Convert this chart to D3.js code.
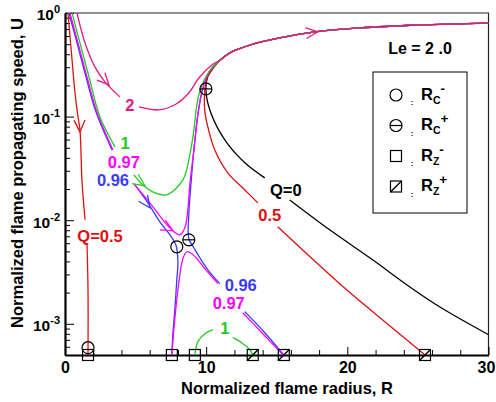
<!DOCTYPE html>
<html>
<head>
<meta charset="utf-8">
<script src="https://cdn.jsdelivr.net/npm/d3@7"></script>
<style>
  body { margin: 0; background: #fff; }
  svg { display: block; font-family: "Liberation Sans", Arial, Helvetica, sans-serif; font-weight: bold; }
</style>
</head>
<body>
<svg width="496" height="402"></svg>
<script>
// branch shared by all curves above the turning point (R, U)
const upper = [[11.0,0.352],[11.8,0.421],[13.1,0.491],[15.2,0.574],[17.7,0.656],[20.9,0.717],[25.1,0.766],[30,0.80]];
const upperRev = upper.slice().reverse();

// null = gap where a curve label sits
const q0 = [...upperRev, [10.5,0.295],[10.1,0.241],[9.98,0.185],[10.26,0.116],[11.32,0.0596],[12.74,0.0358],[14.15,0.0256], null,
  [15.92,0.0157],[18.75,0.00808],[21.79,0.00415],[24.41,0.00228],[26.53,0.00146],[30,0.000785]];
const q05Right = [...upperRev, [10.5,0.295],[10.1,0.241],[9.91,0.181],[9.91,0.111],[10.12,0.0796],[10.61,0.0477],[11.53,0.0287],[12.74,0.0196],[13.66,0.0147], null,
  [15.07,0.00864],[19.46,0.00244],[23.0,0.000959],[25.5,0.0005]];
const q05Left = [[0.21,1],[0.50,0.352],[0.71,0.169],[0.92,0.0993],[1.06,0.0744],[1.20,0.0245],[1.42,0.0101], null,
  [1.56,0.00579],[1.63,0.00213],[1.63,0.0005]];
const q2 = [[0.85,1],[1.42,0.514],[2.12,0.302],[2.83,0.216],[3.89,0.155], null,
  [5.24,0.124],[6.65,0.116],[7.78,0.130],[8.77,0.169],[9.48,0.236],[10.4,0.315], ...upper];
const q1 = [[0.50,1],[1.06,0.514],[1.70,0.241],[2.48,0.0993],[3.54,0.051], null,
  [4.88,0.0274],[5.52,0.0219],[6.37,0.0184],[7.22,0.0176],[8.35,0.0245],[8.84,0.0427],[9.13,0.0744],[9.34,0.130],[9.62,0.189],[10.05,0.252],[10.47,0.302], ...upper];
const q1Low = [[9.20,0.0005],[9.41,0.000672],[9.91,0.000803],[10.47,0.000877], null,
  [11.89,0.000735],[12.52,0.000657],[13.09,0.000563],[13.3,0.0005]];
const q097 = [[0.35,1],[0.92,0.514],[1.56,0.241],[2.26,0.111],[3.40,0.0477], null,
  [4.88,0.0224],[6.01,0.0147],[6.93,0.0101],[7.57,0.00808],[8.14,0.00723],[8.49,0.00845],[8.70,0.0126],[8.84,0.0219],[9.13,0.0477],[9.41,0.104],[9.69,0.173],[10.05,0.247],[10.47,0.302], ...upper];
const q097Low = [[7.57,0.0005],[7.71,0.000877],[7.92,0.00171],[8.14,0.00298],[8.35,0.00424],[8.63,0.00496],[8.99,0.00474],[9.41,0.00415],[9.84,0.00348],[10.83,0.00244], null,
  [12.6,0.00128],[14.01,0.000803],[15.45,0.0005]];
const q096 = [[0.28,1],[0.85,0.514],[1.49,0.241],[2.19,0.111],[3.33,0.0477], null,
  [4.95,0.0219],[5.87,0.0147],[6.72,0.00965],[7.43,0.00723],[7.85,0.00579],[8.0,0.00397],[7.92,0.00266],[7.78,0.00137],[7.64,0.000785],[7.57,0.0005]];
const q096Right = [...upperRev, [10.47,0.302],[10.05,0.247],[9.69,0.169],[9.41,0.104],[9.13,0.0477],[8.92,0.0219],[8.77,0.0113],[8.77,0.00662],[9.13,0.00542],[9.55,0.00434],[10.12,0.00332],[10.97,0.00244], null,
  [12.74,0.00131],[14.15,0.00082],[15.5,0.0005]];

// markers
const rcMinus = [[1.63,0.000588],[7.92,0.00554]];
const rcPlus = [[9.98,0.185],[8.77,0.00647]];
const rzMinus = [1.63, 7.57, 9.20];
const rzPlus = [13.3, 15.5, 25.5];

// curve labels: text, R, U
const labelText = ["2", "1", "0.97", "0.96", "Q=0.5", "Q=0", "0.5", "0.96", "0.97", "1"];
const labelR = [4.60, 4.25, 4.17, 3.40, 2.48, 15.64, 14.5, 12.45, 11.6, 11.32];
const labelU = [0.130, 0.0558, 0.0366, 0.0245, 0.00707, 0.0196, 0.0113, 0.00238, 0.0016, 0.000918];

// direction arrows: tip and a point further along the curve
const arrowTip = [[1.06,0.0712],[3.11,0.202],[17.9,0.656],[5.66,0.0215],[6.01,0.0132],[7.64,0.0079]];
const arrowToward = [[1.2,0.0245],[3.89,0.155],[20.87,0.717],[6.37,0.0184],[6.72,0.00965],[8.14,0.00723]];

const xMajor = [0, 10, 20, 30];
const yMajor = [1, 0.1, 0.01, 0.001];
const yExp = ["0", "-1", "-2", "-3"];

const cRed = "#e01010", cPink = "#e8187c", cGreen = "#22cc22", cMag = "#ff00ff", cBlue = "#3a3aff";
const labelColor = [cPink, cGreen, cMag, cBlue, cRed, "#000", cRed, cBlue, cMag, cGreen];
const arrowColor = [cRed, cPink, cPink, cGreen, cBlue, cMag];

const svg = d3.select("svg");
const pLeft = 65, pRight = 488.5, pTop = 13, pBottom = 355;

const x = d3.scaleLinear().domain([0, 30]).range([pLeft, pRight]);
const y = d3.scaleLog().domain([5e-4, 1]).range([pBottom, pTop]);

svg.append("defs").append("clipPath").attr("id", "plot")
  .append("rect").attr("x", pLeft).attr("y", pTop).attr("width", pRight - pLeft).attr("height", pBottom - pTop);

// frame top and right
svg.append("path")
  .attr("d", `M${pLeft},${pTop}H${pRight}V${pBottom}`)
  .attr("fill", "none").attr("stroke", "#222").attr("stroke-width", 1.2);

// x axis
const xMinor = d3.range(2, 30, 2).filter(d => d % 10 !== 0);
svg.append("g").attr("transform", `translate(0,${pBottom})`)
  .call(d3.axisBottom(x).tickValues(xMinor).tickSize(-5).tickSizeOuter(0).tickFormat(""))
  .call(g => g.select(".domain").remove());
const xAx = svg.append("g").attr("transform", `translate(0,${pBottom})`)
  .call(d3.axisBottom(x).tickValues(xMajor).tickSize(-8).tickSizeOuter(0).tickPadding(7).tickFormat(d3.format("d")));
xAx.select(".domain").attr("stroke-width", 2.2);
xAx.selectAll("text").attr("font-size", 16).attr("font-family", null).attr("fill", "#000")
  .attr("dx", d => d === 30 ? -2.5 : 0);

// y axis
const yMinor = [];
[-4, -3, -2, -1].forEach(e => {
  for (let k = 2; k <= 9; k++) {
    const v = k * Math.pow(10, e);
    if (v >= 5e-4 && v < 1) yMinor.push(v);
  }
});
svg.append("g").attr("transform", `translate(${pLeft},0)`)
  .call(d3.axisLeft(y).tickValues(yMinor).tickSize(-5).tickSizeOuter(0).tickFormat(""))
  .call(g => g.select(".domain").remove());
const yAx = svg.append("g").attr("transform", `translate(${pLeft},0)`)
  .call(d3.axisLeft(y).tickValues(yMajor).tickSize(-9).tickSizeOuter(0).tickPadding(5));
yAx.select(".domain").attr("stroke-width", 2.2);
yAx.selectAll("text")
  .attr("font-size", 15.5).attr("font-family", null).attr("fill", "#000").attr("dy", "0.45em")
  .each(function (d, i) {
    const t = d3.select(this).text("10");
    t.append("tspan").attr("font-size", 11).attr("dy", -7).text(yExp[i]);
  });

// axis titles
svg.append("text").attr("x", 287).attr("y", 394).attr("text-anchor", "middle")
  .attr("font-size", 16.5).text("Normalized flame radius, R");
svg.append("text").attr("transform", "translate(23,173) rotate(-90)").attr("text-anchor", "middle")
  .attr("font-size", 16.5).text("Normalized flame propagating speed, U");

// curves
const line = d3.line().defined(d => d).x(d => x(d[0])).y(d => y(d[1])).curve(d3.curveCatmullRom.alpha(0.5));
const curves = [
  [q0, "#000"], [q05Right, cRed], [q05Left, cRed],
  [q096, cBlue], [q096Right, cBlue], [q097, cMag], [q097Low, cMag],
  [q1, cGreen], [q1Low, cGreen], [q2, cPink]
];
const cg = svg.append("g").attr("clip-path", "url(#plot)");
cg.selectAll("path").data(curves).join("path")
  .attr("d", d => line(d[0]))
  .attr("fill", "none").attr("stroke", d => d[1]).attr("stroke-width", 1.3);

// arrows
arrowTip.forEach((tp, i) => {
  const px = x(tp[0]), py = y(tp[1]);
  const a = Math.atan2(y(arrowToward[i][1]) - py, x(arrowToward[i][0]) - px) + Math.PI;
  const L = 13, h = 25 * Math.PI / 180;
  svg.append("path")
    .attr("d", `M${px + L * Math.cos(a - h)},${py + L * Math.sin(a - h)}L${px},${py}L${px + L * Math.cos(a + h)},${py + L * Math.sin(a + h)}`)
    .attr("fill", "none").attr("stroke", arrowColor[i]).attr("stroke-width", 1.3);
});

// curve labels
svg.append("g").selectAll("text").data(labelText).join("text")
  .attr("x", (d, i) => x(labelR[i])).attr("y", (d, i) => y(labelU[i]))
  .attr("dy", "0.36em").attr("text-anchor", "middle").attr("font-size", 16.5)
  .attr("fill", (d, i) => labelColor[i]).text(d => d);

// symbols
function symbol(g, type, cx, cy) {
  if (type === "c" || type === "cp") {
    g.append("circle").attr("cx", cx).attr("cy", cy).attr("r", 6)
      .attr("fill", "none").attr("stroke", "#000").attr("stroke-width", 1.2);
    if (type === "cp") g.append("path").attr("d", `M${cx - 6},${cy}H${cx + 6}`).attr("stroke", "#000").attr("stroke-width", 1.2);
  } else {
    g.append("rect").attr("x", cx - 5.5).attr("y", cy - 5.5).attr("width", 11).attr("height", 11)
      .attr("fill", "none").attr("stroke", "#000").attr("stroke-width", 1.2);
    if (type === "sp") g.append("path").attr("d", `M${cx - 5.5},${cy + 5.5}L${cx + 5.5},${cy - 5.5}`).attr("stroke", "#000").attr("stroke-width", 1.4);
  }
}
const mg = svg.append("g");
rcMinus.forEach(d => symbol(mg, "c", x(d[0]), y(d[1])));
rcPlus.forEach(d => symbol(mg, "cp", x(d[0]), y(d[1])));
rzMinus.forEach(r => symbol(mg, "s", x(r), pBottom));
rzPlus.forEach(r => symbol(mg, "sp", x(r), pBottom));

// Le annotation
svg.append("text").attr("x", 420).attr("y", 54).attr("text-anchor", "middle").attr("font-size", 16).text("Le = 2 .0");

// legend
const legType = ["c", "cp", "s", "sp"];
const legSub = ["C", "C", "Z", "Z"];
const legSup = ["-", "+", "-", "+"];
const lg = svg.append("g");
lg.append("rect").attr("x", 373).attr("y", 72).attr("width", 94).attr("height", 141)
  .attr("fill", "#fff").attr("stroke", "#000").attr("stroke-width", 1);
legType.forEach((t, i) => {
  const cy = 95 + i * 30.5;
  symbol(lg, t, 396, cy);
  lg.append("text").attr("x", 412).attr("y", cy + 10).attr("font-size", 8).attr("text-anchor", "middle").text(":");
  const tx = lg.append("text").attr("x", 421).attr("y", cy + 4.5).attr("font-size", 16.5);
  tx.append("tspan").text("R");
  tx.append("tspan").attr("font-size", 10.5).attr("dy", 4).text(legSub[i]);
  tx.append("tspan").attr("font-size", 13.5).attr("dy", -11).text(legSup[i]);
});
</script>
</body>
</html>
